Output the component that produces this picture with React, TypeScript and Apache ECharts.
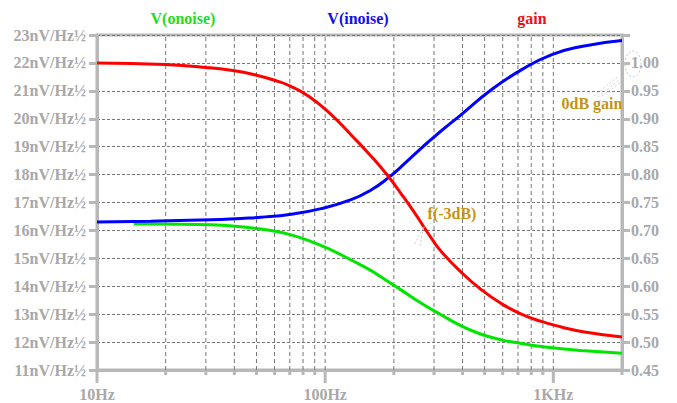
import React, { useEffect, useRef } from "react";
import * as echarts from "echarts";

// Frequencies (Hz) and values
const inoiseFreq = [10, 17.2, 31.6, 42.8, 52.4, 70.9, 96, 130, 159, 189, 215, 264, 291, 323, 395, 535, 724, 979, 1327, 2000];
const inoiseVal = [16.30, 16.33, 16.38, 16.43, 16.47, 16.58, 16.78, 17.10, 17.45, 17.88, 18.28, 18.95, 19.25, 19.57, 20.15, 21.04, 21.75, 22.29, 22.59, 22.80];

const onoiseFreq = [14.5, 17.2, 31.6, 42.8, 52.4, 57.9, 70.9, 86.9, 106, 130, 159, 176, 215, 264, 323, 395, 483, 591, 724, 885, 1084, 1327, 2000];
const onoiseVal = [16.23, 16.23, 16.20, 16.13, 16.05, 16.00, 15.84, 15.60, 15.30, 14.94, 14.56, 14.33, 13.87, 13.39, 12.97, 12.58, 12.28, 12.08, 11.95, 11.84, 11.76, 11.70, 11.60];

const gainFreq = [10, 20, 30, 40, 50, 60, 70, 85, 106, 130, 159, 189, 215, 251, 272, 291, 323, 395, 483, 591, 724, 885, 1084, 1327, 2000];
const gainVal = [1.000, 0.997, 0.992, 0.986, 0.978, 0.969, 0.959, 0.940, 0.908, 0.871, 0.833, 0.797, 0.766, 0.727, 0.705, 0.687, 0.662, 0.625, 0.594, 0.569, 0.550, 0.537, 0.527, 0.519, 0.509];

const majorFreqs = [10, 100, 1000];
const minorFreqs = [20, 30, 40, 50, 60, 70, 80, 90, 200, 300, 400, 500, 600, 700, 800, 900, 2000];
const xLabels: Record<number, string> = { 10: "10Hz", 100: "100Hz", 1000: "1KHz" };

const seriesNames = ["V(onoise)", "V(inoise)", "gain"];

const FONT = "'Liberation Serif', 'Times New Roman', serif";
const AXIS_GRAY = "#b8b8b8";
const LABEL_GRAY = "#a8a8a8";
const GOLD = "#c49413";

export default function App() {
  const ref = useRef<HTMLDivElement>(null);
  useEffect(() => {
    if (!ref.current) return;
    const chart = echarts.init(ref.current, undefined, { renderer: "svg" });
    const zip = (xs: number[], ys: number[]) => xs.map((x, i) => [x, ys[i]]);
    const tickData = [
      ...majorFreqs.map((f) => [f, 1]),
      ...minorFreqs.map((f) => [f, 0]),
    ];
    const lineCommon = { showSymbol: false, smooth: 0.5 };
    const option: any = {
      animation: false,
      backgroundColor: "#ffffff",
      grid: {
        left: 97,
        right: 55,
        top: 35,
        bottom: 33,
        show: true,
        borderColor: AXIS_GRAY,
        borderWidth: 3,
      },
      xAxis: {
        type: "log",
        logBase: 10,
        min: 10,
        max: 2000,
        axisLine: { show: true, lineStyle: { color: AXIS_GRAY, width: 3 } },
        axisTick: { show: false },
        splitLine: { show: false },
        axisLabel: {
          margin: 16,
          color: LABEL_GRAY,
          fontFamily: FONT,
          fontWeight: "bold",
          fontSize: 16,
          showMaxLabel: false,
          formatter: (v: number) => xLabels[Math.round(v)] ?? "",
        },
      },
      yAxis: [
        {
          type: "value",
          min: 11,
          max: 23,
          interval: 1,
          position: "left",
          axisLine: { show: true, lineStyle: { color: AXIS_GRAY, width: 3 } },
          axisTick: { show: true, length: 8, lineStyle: { color: AXIS_GRAY, width: 3 } },
          splitLine: { show: true, lineStyle: { color: "#777777", width: 1, type: [3, 2] } },
          axisLabel: {
            margin: 11,
            color: LABEL_GRAY,
            fontFamily: FONT,
            fontWeight: "bold",
            fontSize: 16,
            formatter: (v: number) => `${v}nV/Hz½`,
          },
        },
        {
          type: "value",
          min: 0.45,
          max: 1.05,
          interval: 0.05,
          position: "right",
          axisLine: { show: true, lineStyle: { color: AXIS_GRAY, width: 3 } },
          axisTick: { show: true, length: 8, lineStyle: { color: AXIS_GRAY, width: 3 } },
          splitLine: { show: false },
          axisLabel: {
            margin: 9,
            color: LABEL_GRAY,
            fontFamily: FONT,
            fontWeight: "bold",
            fontSize: 16,
            formatter: (v: number) => (v > 1.04 ? "" : v.toFixed(2)),
          },
        },
      ],
      series: [
        {
          type: "custom",
          name: "xgrid",
          clip: false,
          silent: true,
          z: 1,
          data: tickData,
          renderItem: (params: any, api: any) => {
            const f = api.value(0);
            const major = api.value(1) === 1;
            const bot = api.coord([f, 11]);
            const top = api.coord([f, 23]);
            const children: any[] = [];
            if (f > 10 && f < 2000) {
              children.push({
                type: "line",
                shape: { x1: bot[0], y1: bot[1], x2: top[0], y2: top[1] },
                style: { stroke: "#777777", lineWidth: 1, lineDash: [4, 3] },
              });
            }
            children.push({
              type: "line",
              shape: { x1: bot[0], y1: bot[1], x2: bot[0], y2: bot[1] + (major ? 13 : 5) },
              style: { stroke: AXIS_GRAY, lineWidth: 3 },
            });
            return { type: "group", children };
          },
        },
        {
          type: "line",
          name: seriesNames[0],
          yAxisIndex: 0,
          data: zip(onoiseFreq, onoiseVal),
          ...lineCommon,
          lineStyle: { color: "#00e600", width: 3 },
          itemStyle: { color: "#00e600" },
          z: 3,
        },
        {
          type: "line",
          name: seriesNames[1],
          yAxisIndex: 0,
          data: zip(inoiseFreq, inoiseVal),
          ...lineCommon,
          lineStyle: { color: "#0000ff", width: 3 },
          itemStyle: { color: "#0000ff" },
          z: 4,
        },
        {
          type: "line",
          name: seriesNames[2],
          yAxisIndex: 1,
          data: zip(gainFreq, gainVal),
          ...lineCommon,
          lineStyle: { color: "#ff0000", width: 3 },
          itemStyle: { color: "#ff0000" },
          z: 5,
        },
      ],
      graphic: [
        { type: "text", x: 183, y: 18, style: { text: seriesNames[0], fill: "#22dd22", fontFamily: FONT, fontWeight: "bold", fontSize: 16, textAlign: "center", textVerticalAlign: "middle" } },
        { type: "text", x: 358, y: 18, style: { text: seriesNames[1], fill: "#1010ee", fontFamily: FONT, fontWeight: "bold", fontSize: 16, textAlign: "center", textVerticalAlign: "middle" } },
        { type: "text", x: 532, y: 18, style: { text: seriesNames[2], fill: "#ee1111", fontFamily: FONT, fontWeight: "bold", fontSize: 16, textAlign: "center", textVerticalAlign: "middle" } },
        { type: "text", x: 592, y: 103, z: 10, style: { text: "0dB gain", fill: GOLD, fontFamily: FONT, fontWeight: "bold", fontSize: 16, textAlign: "center", textVerticalAlign: "middle" } },
        { type: "text", x: 452, y: 213, z: 10, style: { text: "f(-3dB)", fill: GOLD, fontFamily: FONT, fontWeight: "bold", fontSize: 16, textAlign: "center", textVerticalAlign: "middle" } },
        { type: "ellipse", shape: { cx: 633, cy: 64, rx: 8, ry: 13 }, style: { fill: "none", stroke: "#c8c8c8", lineWidth: 1, lineDash: [2, 2] }, z: 10 },
        { type: "line", shape: { x1: 594, y1: 96, x2: 617, y2: 77 }, style: { stroke: "#d0d0d0", lineWidth: 1, lineDash: [2, 2] }, z: 10 },
        { type: "line", shape: { x1: 598, y1: 97, x2: 619, y2: 80 }, style: { stroke: "#d0d0d0", lineWidth: 1, lineDash: [2, 2] }, z: 10 },
        { type: "line", shape: { x1: 602, y1: 96, x2: 620, y2: 83 }, style: { stroke: "#d0d0d0", lineWidth: 1, lineDash: [2, 2] }, z: 10 },
        { type: "line", shape: { x1: 423, y1: 228, x2: 414, y2: 245 }, style: { stroke: "#d0d0d0", lineWidth: 1, lineDash: [2, 2] }, z: 10 },
        { type: "line", shape: { x1: 423, y1: 228, x2: 420, y2: 247 }, style: { stroke: "#d0d0d0", lineWidth: 1, lineDash: [2, 2] }, z: 10 },
        { type: "line", shape: { x1: 423, y1: 228, x2: 433, y2: 222 }, style: { stroke: "#d0d0d0", lineWidth: 1, lineDash: [2, 2] }, z: 10 },
      ],
    };
    chart.setOption(option);
    return () => chart.dispose();
  }, []);
  return (
    <div
      ref={ref}
      style={{ position: "fixed", left: 0, top: 0, width: 677, height: 403, background: "#fff" }}
    />
  );
}
